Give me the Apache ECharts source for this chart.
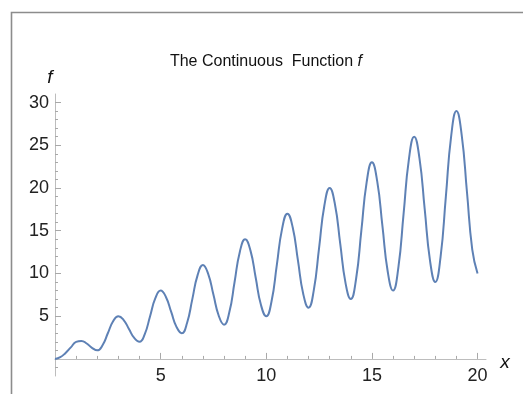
<!DOCTYPE html>
<html>
<head>
<meta charset="utf-8">
<script src="https://cdn.jsdelivr.net/npm/echarts@6/dist/echarts.min.js"></script>
<style>
html,body{margin:0;padding:0;background:#fff;}
#chart{width:523px;height:394px;}
</style>
</head>
<body>
<div id="chart"></div>
<script>
var titleText = 'The Continuous  Function ';
var xs = [0,0.25,0.5,0.75,1,1.25,1.5,1.75,2,2.25,2.5,2.75,3,3.25,3.5,3.75,4,4.25,4.5,4.75,5,5.25,5.5,5.75,6,6.25,6.5,6.75,7,7.25,7.5,7.75,8,8.25,8.5,8.75,9,9.25,9.5,9.75,10,10.25,10.5,10.75,11,11.25,11.5,11.75,12,12.25,12.5,12.75,13,13.25,13.5,13.75,14,14.25,14.5,14.75,15,15.25,15.5,15.75,16,16.25,16.5,16.75,17,17.25,17.5,17.75,18,18.25,18.5,18.75,19,19.25,19.5,19.75,20];
var fs = [0,0.2,0.7,1.35,2.0,2.1,1.8,1.3,1.0,1.6,3.0,4.4,5.0,4.55,3.5,2.45,2.0,2.9,5.0,7.1,8.0,7.25,5.5,3.75,3.0,4.2,7.0,9.8,11.0,9.95,7.5,5.05,4.0,5.45,9.0,12.55,14.0,12.7,9.5,6.3,5.0,6.75,11.0,15.25,17.0,15.4,11.5,7.6,6.0,8.05,13.0,17.95,20.0,18.1,13.5,8.9,7.0,9.35,15.0,20.65,23.0,20.8,15.5,10.2,8.0,10.65,17.0,23.35,26.0,23.5,17.5,11.5,9.0,11.95,19.0,26.05,29.0,26.2,19.5,12.8,10.0];
var xMajor = [5,10,15,20];
var xMinor = [1,2,3,4,6,7,8,9,11,12,13,14,16,17,18,19];
var yMajor = [5,10,15,20,25,30];
var yMinor = [-1,1,2,3,4,6,7,8,9,11,12,13,14,16,17,18,19,21,22,23,24,26,27,28,29];

var FONT = '"Liberation Sans", Arial, sans-serif';
var data = xs.map(function(x,i){return [x, fs[i]];});

var chart = echarts.init(document.getElementById('chart'), null, {renderer:'canvas'});
var axisColor = '#bdbdbd';
var tickColor = '#a8a8a8';
chart.setOption({
  animation:false,
  backgroundColor:'#fff',
  grid:{left:55, top:94, width:431, height:282, containLabel:false, outerBoundsMode:'none'},
  xAxis:[{
    type:'value', min:0, max:20.4,
    axisLine:{show:true, onZero:true, lineStyle:{color:axisColor, width:1}},
    axisTick:{show:true, inside:true, length:3, customValues:xMinor, lineStyle:{color:tickColor}},
    axisLabel:{show:true, customValues:xMajor, fontSize:18, color:'#222', fontFamily:FONT, margin:-9},
    splitLine:{show:false}
  },{
    type:'value', min:0, max:20.4, position:'bottom',
    axisLine:{show:false, onZero:true},
    axisTick:{show:true, inside:true, length:6, customValues:xMajor, lineStyle:{color:tickColor}},
    axisLabel:{show:false},
    splitLine:{show:false}
  }],
  yAxis:[{
    type:'value', min:-2, max:31,
    axisLine:{show:true, onZero:true, lineStyle:{color:axisColor, width:1}},
    axisTick:{show:true, inside:true, length:3, customValues:yMinor, lineStyle:{color:tickColor}},
    axisLabel:{show:true, customValues:yMajor, fontSize:18, color:'#222', fontFamily:FONT, margin:6},
    splitLine:{show:false}
  },{
    type:'value', min:-2, max:31, position:'left',
    axisLine:{show:false, onZero:true},
    axisTick:{show:true, inside:true, length:6, customValues:yMajor, lineStyle:{color:tickColor}},
    axisLabel:{show:false},
    splitLine:{show:false}
  }],
  series:[{
    type:'line', data:data, xAxisIndex:0, yAxisIndex:0,
    smooth:0.5, showSymbol:false, symbol:'none',
    lineStyle:{color:'#5E81B5', width:2},
    z:5
  }],
  graphic:[
    {type:'rect', shape:{x:11.5, y:12.5, width:560, height:420}, style:{fill:null, stroke:'#8c8c8c', lineWidth:1.6}, silent:true},
    {type:'text', x:266, y:62, style:{text:titleText + '{i|f}', rich:{i:{fontStyle:'italic', fontSize:16, fontFamily:FONT, fill:'#111'}}, fontSize:16, fontFamily:FONT, fill:'#111', align:'center', verticalAlign:'middle'}},
    {type:'text', x:50, y:78, style:{text:'f', fontStyle:'italic', fontSize:19, fontFamily:FONT, fill:'#111', align:'center', verticalAlign:'middle'}},
    {type:'text', x:505, y:363, style:{text:'x', fontStyle:'italic', fontSize:19, fontFamily:FONT, fill:'#111', align:'center', verticalAlign:'middle'}}
  ]
});
</script>
</body>
</html>
